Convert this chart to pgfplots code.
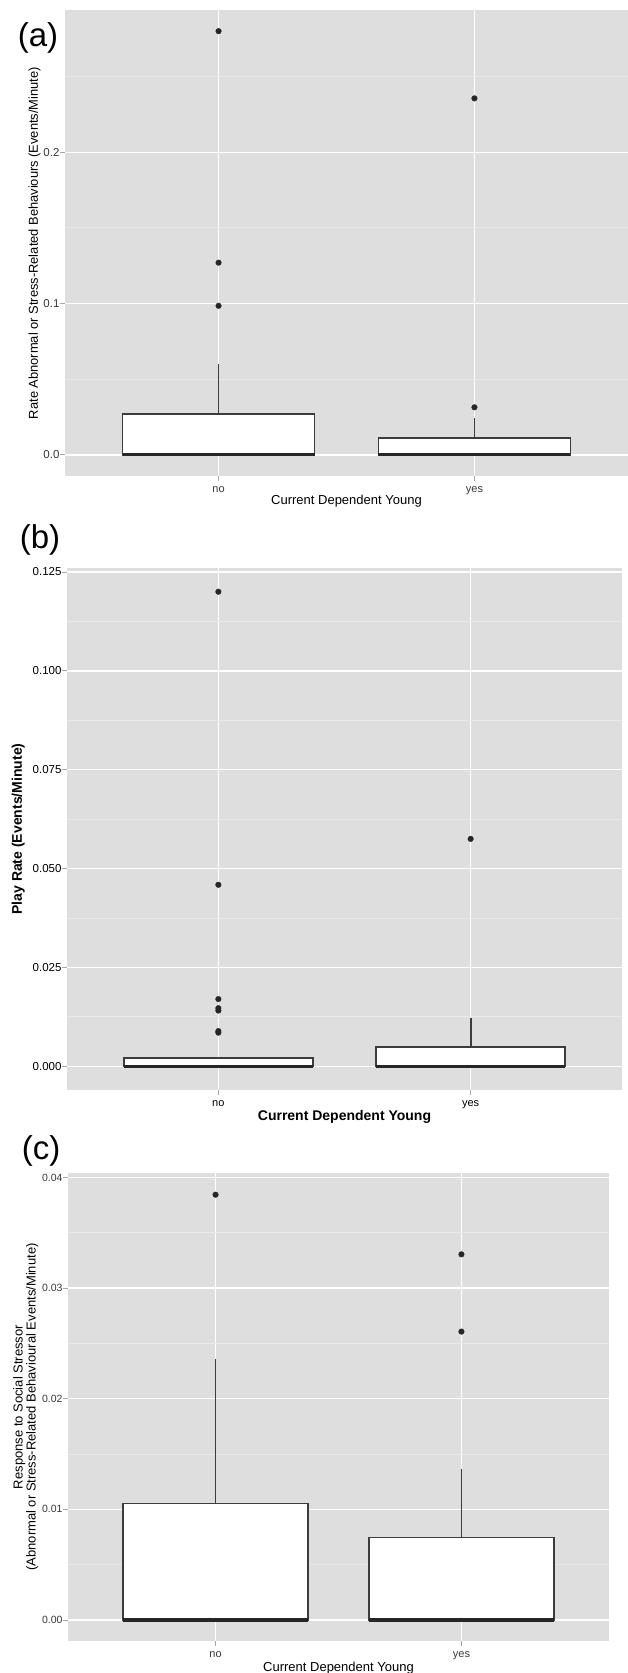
\documentclass[border=0pt]{standalone}
\usepackage{fontspec}
\setmainfont{Liberation Sans}
\usepackage{pgfplots}
\pgfplotsset{compat=1.18}

\definecolor{panelbg}{HTML}{DEDEDE}
\definecolor{minorgrid}{HTML}{E9E9E9}
\definecolor{boxline}{HTML}{3C3C3C}
\definecolor{ticktext}{HTML}{383838}

\newcommand{\fs}[1]{\fontsize{#1}{#1}\selectfont}

\pgfplotsset{
  ggbox/.style={
    scale only axis,
    anchor=north west,
    xmin=0.4, xmax=2.6,
    xtick={1,2}, xticklabels={no,yes},
    axis background/.style={fill=panelbg},
    axis line style={draw=none},
    xmajorgrids, ymajorgrids, yminorgrids,
    major grid style={white, line width=1.4pt},
    minor grid style={minorgrid, line width=0.8pt},
    tick align=outside,
    tick pos=left,
    major tick length=5pt,
    minor tick length=0pt,
    tick style={gray!70, line width=0.8pt},
    scaled y ticks=false,
    /pgf/number format/assume math mode=true,
    yticklabel style={font=\fs{11}, text=ticktext, xshift=3pt},
    xticklabel style={font=\fs{11}, text=ticktext, yshift=-2pt},
    ylabel style={anchor=center},
    xlabel style={anchor=center},
  },
  boxst/.style={draw=boxline, fill=white, line width=1.7pt},
  whst/.style={draw=boxline, line width=1.8pt},
  medst/.style={draw=black!85, line width=3pt},
  outl/.style={only marks, mark=*, mark size=2.8pt, black!85},
}

\begin{document}
\begin{tikzpicture}
\useasboundingbox (0pt,0pt) rectangle (628pt,-1673pt);

% ---------------- (a)
\begin{axis}[ggbox,
  at={(65pt,-10pt)}, width=563pt, height=466pt,
  ymin=-0.014, ymax=0.294,
  ytick={0,0.1,0.2}, minor ytick={0.05,0.15,0.25},
  yticklabel style={font=\fs{11.5}, /pgf/number format/fixed,
    /pgf/number format/fixed zerofill, /pgf/number format/precision=1},
  ylabel={Rate Abnormal or Stress-Related Behaviours (Events/Minute)},
  ylabel style={font=\fs{12.9}, at={(axis description cs:-0.054,0.5)}},
  xlabel={Current Dependent Young},
  xlabel style={font=\fs{13}, at={(axis description cs:0.5,-0.054)}},
]
% no: box 0 .. 0.0270, whisker to 0.0600
\addplot[whst] coordinates {(1,0.0270) (1,0.0600)};
\addplot[boxst] coordinates {(0.625,0) (1.375,0) (1.375,0.0270) (0.625,0.0270)} -- cycle;
\addplot[medst] coordinates {(0.625,0) (1.375,0)};
% yes: box 0 .. 0.0110, whisker to 0.0246
\addplot[whst] coordinates {(2,0.0110) (2,0.0246)};
\addplot[boxst] coordinates {(1.625,0) (2.375,0) (2.375,0.0110) (1.625,0.0110)} -- cycle;
\addplot[medst] coordinates {(1.625,0) (2.375,0)};
\addplot[outl] coordinates {(1,0.2800) (1,0.1270) (1,0.0985) (2,0.2356) (2,0.0314)};
\end{axis}

% ---------------- (b)
\begin{axis}[ggbox,
  at={(67pt,-568pt)}, width=555pt, height=522pt,
  ymin=-0.006, ymax=0.126,
  ytick={0,0.025,0.05,0.075,0.1,0.125},
  minor ytick={0.0125,0.0375,0.0625,0.0875,0.1125},
  yticklabel style={font=\fs{11.5}, text=black, /pgf/number format/fixed,
    /pgf/number format/fixed zerofill, /pgf/number format/precision=3},
  xticklabel style={text=black},
  ylabel={\bfseries Play Rate (Events/Minute)},
  ylabel style={font=\fs{14}, at={(axis description cs:-0.088,0.5)}},
  xlabel={\bfseries Current Dependent Young},
  xlabel style={font=\fs{14}, at={(axis description cs:0.5,-0.052)}},
]
\addplot[boxst] coordinates {(0.625,0) (1.375,0) (1.375,0.0021) (0.625,0.0021)} -- cycle;
\addplot[medst] coordinates {(0.625,0) (1.375,0)};
\addplot[whst] coordinates {(2,0.0048) (2,0.0121)};
\addplot[boxst] coordinates {(1.625,0) (2.375,0) (2.375,0.0048) (1.625,0.0048)} -- cycle;
\addplot[medst] coordinates {(1.625,0) (2.375,0)};
\addplot[outl] coordinates {(1,0.1200) (1,0.0459) (1,0.0170) (1,0.0147) (1,0.0141)
  (1,0.0089) (1,0.0085) (2,0.0575)};
\end{axis}

% ---------------- (c)
\begin{axis}[ggbox,
  at={(68pt,-1173pt)}, width=541pt, height=468pt,
  ymin=-0.0019, ymax=0.0404,
  ytick={0,0.01,0.02,0.03,0.04},
  minor ytick={0.005,0.015,0.025,0.035},
  yticklabel style={font=\fs{10.5}, /pgf/number format/fixed,
    /pgf/number format/fixed zerofill, /pgf/number format/precision=2},
  ylabel={Response to Social Stressor\\(Abnormal or Stress-Related Behavioural Events/Minute)},
  ylabel style={font=\fontsize{13}{13}\selectfont, align=center,
    at={(axis description cs:-0.078,0.5)}},
  xlabel={Current Dependent Young},
  xlabel style={font=\fs{13}, at={(axis description cs:0.5,-0.058)}},
]
\addplot[whst] coordinates {(1,0.01052) (1,0.02359)};
\addplot[boxst] coordinates {(0.625,0) (1.375,0) (1.375,0.01052) (0.625,0.01052)} -- cycle;
\addplot[medst] coordinates {(0.625,0) (1.375,0)};
\addplot[whst] coordinates {(2,0.00746) (2,0.01361)};
\addplot[boxst] coordinates {(1.625,0) (2.375,0) (2.375,0.00746) (1.625,0.00746)} -- cycle;
\addplot[medst] coordinates {(1.625,0) (2.375,0)};
\addplot[outl] coordinates {(1,0.03844) (2,0.03305) (2,0.02607)};
\end{axis}

\node[font=\fs{33}] at (38pt,-38pt) {(a)};
\node[font=\fs{33}] at (40pt,-540pt) {(b)};
\node[font=\fs{33}] at (41pt,-1151pt) {(c)};
\end{tikzpicture}
\end{document}
